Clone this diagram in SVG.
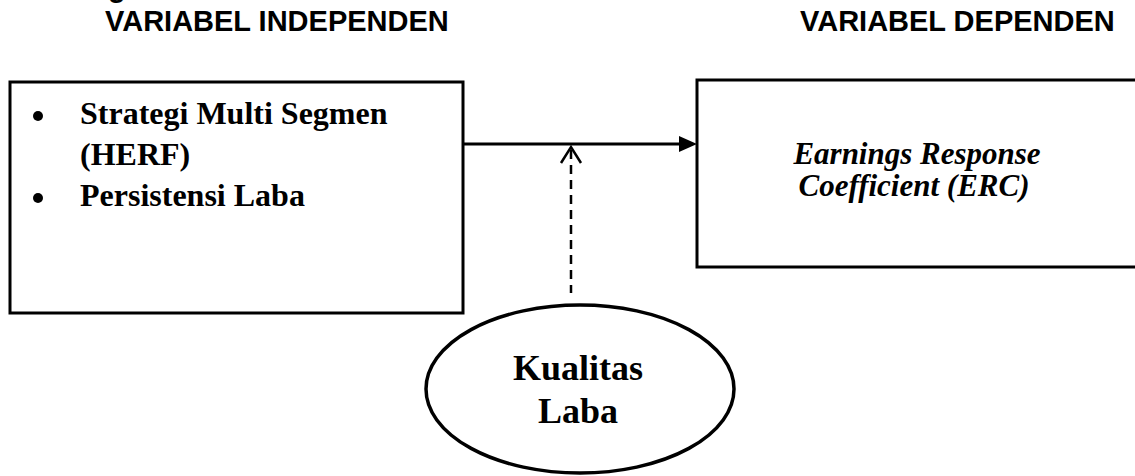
<svg xmlns="http://www.w3.org/2000/svg" width="1135" height="476" viewBox="0 0 1135 476">
<style>
.hdr{font-family:"Liberation Sans",Arial,sans-serif;font-weight:bold;font-size:29px;fill:#000}
.box{fill:#fff;stroke:#000;stroke-width:3}
.tb{font-family:"Liberation Serif","Times New Roman",serif;font-weight:bold;fill:#000}
.conn{stroke:#000;stroke-width:3;fill:none}
</style>
<rect width="1135" height="476" fill="#fff"/>
<text class="hdr" x="108" y="-3">g</text>
<text class="hdr" x="105" y="31">VARIABEL INDEPENDEN</text>
<text class="hdr" x="800" y="31">VARIABEL DEPENDEN</text>
<g id="connectors">
<line class="conn" x1="463" y1="144" x2="680" y2="144"/>
<path d="M679,136 L697,144 L679,152 z" fill="#000"/>
<line x1="571" y1="150" x2="571" y2="293" stroke="#000" stroke-width="2.5" stroke-dasharray="9,6"/>
<polyline points="561,163 571,147 581,163" fill="none" stroke="#000" stroke-width="2.5"/>
</g>
<g id="independen">
<rect class="box" x="10" y="82" width="453" height="231"/>
<circle cx="38" cy="116" r="5" fill="#000"/>
<circle cx="38" cy="198" r="5" fill="#000"/>
<text class="tb" font-size="32" x="80" y="124">Strategi Multi Segmen</text>
<text class="tb" font-size="32" x="80" y="165">(HERF)</text>
<text class="tb" font-size="32" x="80" y="206">Persistensi Laba</text>
</g>
<g id="dependen">
<rect class="box" x="697" y="80" width="450" height="187"/>
<text class="tb" font-size="31" font-style="italic" text-anchor="middle" x="917" y="164">Earnings Response</text>
<text class="tb" font-size="31" font-style="italic" text-anchor="middle" x="914" y="196">Coefficient (ERC)</text>
</g>
<g id="kualitas">
<ellipse cx="580" cy="389" rx="154" ry="84" fill="#fff" stroke="#000" stroke-width="3.5"/>
<text class="tb" font-size="36" text-anchor="middle" x="578" y="380">Kualitas</text>
<text class="tb" font-size="36" text-anchor="middle" x="578" y="423">Laba</text>
</g>
</svg>
